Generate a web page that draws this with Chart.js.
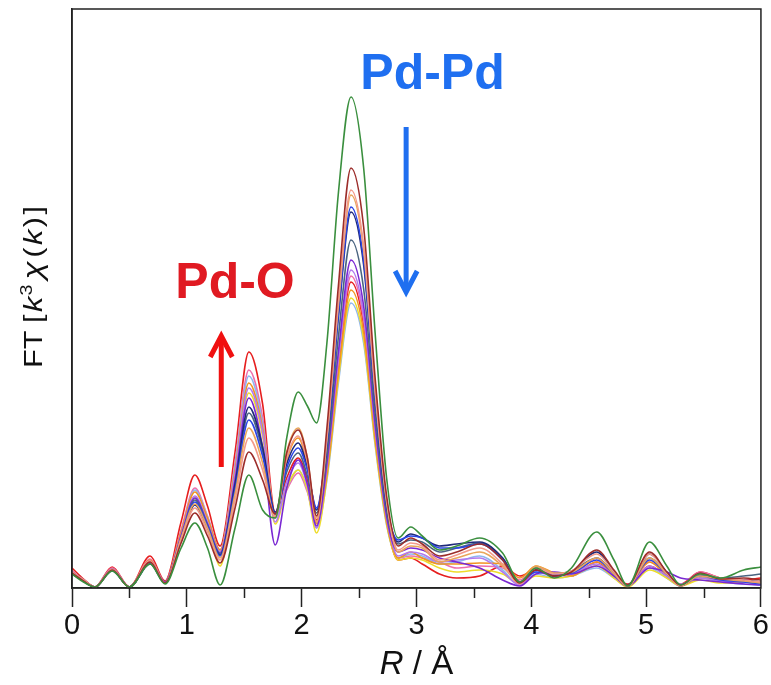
<!DOCTYPE html>
<html><head><meta charset="utf-8">
<script src="https://cdn.jsdelivr.net/npm/chart.js@4/dist/chart.umd.min.js"></script>
<style>html,body{margin:0;padding:0;background:#fff;}</style>
</head><body>
<canvas id="c" width="771" height="685"></canvas>
<script>
// R grid (Å)
const R = [0,0.1,0.2,0.35,0.5,0.68,0.81,0.95,1.07,1.18,1.29,1.42,1.54,1.66,1.77,1.87,1.97,2.05,2.13,2.22,2.32,2.43,2.54,2.64,2.74,2.84,2.95,3.05,3.2,3.35,3.55,3.75,3.9,4.04,4.2,4.35,4.57,4.72,4.84,5.03,5.18,5.3,5.47,5.65,5.85,6.0];
// FT magnitudes (arbitrary units)
const green     = [14,6,1,17,1,24,4,40,65,40,3,60,113,78,70,150,196,182,165,245,395,491,420,255,110,50,61,52,38,42,50,35,6,20,10,20,56,28,2,46,22,3,14,10,18,21];
const darkRed   = [15,7,1,18,1,26,5,45,75,52,25,80,136,108,74,135,158,130,72,160,302,420,361,210,92,42,50,44,32,36,44,28,5,18,12,16,38,18,3,36,16,3,15,9,10,8];
const salmon    = [16,8,1,19,1,27,5,48,80,56,28,88,150,118,72,130,152,126,70,151,287,398,342,199,88,38,45,42,28,33,40,24,4,20,14,17,34,16,2,34,15,2,14,10,8,6];
const tan       = [15,8,1,18,1,26,5,50,84,60,30,94,160,125,70,136,160,130,66,149,283,393,338,196,86,36,42,40,26,30,36,22,5,22,15,16,30,14,2,30,14,3,12,9,7,5];
const blue      = [15,7,1,18,1,25,5,50,86,62,32,98,168,132,74,120,140,118,80,145,274,381,328,190,84,48,52,50,40,40,44,28,6,16,14,15,28,14,3,28,14,3,12,8,6,4];
const navy      = [15,7,1,18,1,25,5,48,83,60,33,104,181,141,76,124,145,120,78,143,271,376,323,188,83,46,54,50,42,44,46,30,5,18,12,16,36,16,2,34,16,2,14,9,8,6];
const slate     = [14,7,1,17,1,24,5,50,88,63,34,102,175,137,74,116,135,112,75,132,251,348,299,174,77,44,48,46,36,40,45,30,6,20,14,17,30,15,3,30,14,3,13,10,12,14];
const purple    = [16,8,1,19,1,26,6,52,90,64,35,108,190,140,43,100,128,104,62,125,236,328,282,164,72,36,40,38,30,26,20,8,2,14,16,14,22,12,2,20,16,10,8,6,4,3];
const violet    = [16,8,1,19,1,27,6,53,92,66,36,114,200,156,66,106,125,102,60,121,229,318,273,159,70,32,36,34,26,28,30,16,3,16,12,14,24,12,2,22,12,4,10,7,6,4];
const orange    = [16,8,1,19,1,28,6,56,96,70,38,118,205,160,72,128,150,122,64,113,215,298,256,149,66,30,36,30,24,24,25,24,10,22,15,12,26,14,3,26,12,3,10,8,6,5];
const yellow    = [15,7,1,18,1,26,5,52,90,66,22,110,195,152,64,100,118,98,55,110,209,290,249,145,64,28,30,28,20,16,18,14,4,12,10,12,22,10,1,18,10,2,8,5,6,4];
const lightBlue = [15,7,1,18,1,26,5,55,98,71,38,122,212,165,70,100,118,98,60,108,205,285,245,143,63,30,34,32,24,26,32,18,3,14,10,12,20,10,2,20,10,2,10,6,4,3];
const pink      = [17,8,1,20,1,29,6,58,100,72,38,125,218,170,72,98,115,96,65,119,225,312,268,156,69,30,32,30,26,20,22,20,8,20,14,12,30,14,3,26,14,3,16,10,8,6];
const red       = [20,9,1,21,1,32,7,66,113,82,42,136,236,184,75,110,130,108,68,116,220,306,263,153,67,28,30,24,14,10,12,22,12,18,14,12,26,12,4,22,12,4,16,10,8,10];

const seriesList = [green, darkRed, salmon, tan, blue, navy, slate, purple, violet, orange, yellow, lightBlue, pink, red];
const seriesColors = ['#3a8f3e','#9c2d2a','#f39a8a','#e9a65a','#2a44e6','#1f2a7a','#4a6480','#7a28d2','#b27aee','#f29422','#eedc2a','#8fb6f0','#ee6eac','#e61e1e'];

const xMajorTicks = [0,1,2,3,4,5,6];
const xMinorTicks = [0.5,1.5,2.5,3.5,4.5,5.5];

// annotations in data coordinates
const labelPdPd = {text:'Pd-Pd', x:3.14, y:513};
const labelPdO  = {text:'Pd-O',  x:1.42, y:304};
const arrowPdPd = {x:2.91, from:461, to:296};
const arrowPdO  = {x:1.30, from:121, to:252};

const datasets = seriesList.map((vals, i) => ({
  data: R.map((r, j) => ({x: r, y: vals[j]})),
  borderColor: seriesColors[i],
  borderWidth: 1.6,
  pointRadius: 0,
  fill: false,
  cubicInterpolationMode: 'monotone'
}));

function arrow(ctx, x, y0, y1, color) {
  const dir = y1 < y0 ? -1 : 1;
  ctx.save();
  ctx.strokeStyle = color; ctx.lineWidth = 5; ctx.lineCap = 'butt'; ctx.lineJoin = 'miter';
  ctx.beginPath(); ctx.moveTo(x, y0); ctx.lineTo(x, y1 - dir*2); ctx.stroke();
  ctx.beginPath();
  ctx.moveTo(x - 11, y1 - dir*21); ctx.lineTo(x, y1); ctx.lineTo(x + 11, y1 - dir*21);
  ctx.stroke();
  ctx.restore();
}

const decor = {
  id: 'decor',
  afterDraw(chart) {
    const {ctx, chartArea: a, scales: {x, y}} = chart;
    ctx.save();
    // frame
    ctx.strokeStyle = '#222'; ctx.lineWidth = 1.5;
    ctx.strokeRect(a.left, a.top, a.right - a.left, a.bottom - a.top);
    // minor ticks
    xMinorTicks.forEach(v => {
      const px = Math.round(x.getPixelForValue(v)) + 0.5;
      ctx.beginPath(); ctx.moveTo(px, a.bottom); ctx.lineTo(px, a.bottom + 10); ctx.stroke();
    });
    // x title: R / Å
    ctx.fillStyle = '#111'; ctx.textBaseline = 'alphabetic'; ctx.textAlign = 'left';
    const f1 = "italic 33px 'Liberation Sans', Arial", f2 = "33px 'Liberation Sans', Arial";
    ctx.font = f1; const wR = ctx.measureText('R').width;
    ctx.font = f2; const wRest = ctx.measureText(' / Å').width;
    const cx = (a.left + a.right) / 2, tx = cx - (wR + wRest) / 2;
    ctx.font = f1; ctx.fillText('R', tx, 674);
    ctx.font = f2; ctx.fillText(' / Å', tx + wR, 674);
    // y title: FT [k3χ(k)]  (rotated, reading bottom to top)
    const pieces = [
      {t:'FT', s:'normal', sz:25, dy:0, gap:6},
      {t:'[',  s:'normal', sz:25, dy:0, gap:2},
      {t:'k',  s:'italic', sz:25, dy:0, gap:1},
      {t:'3',  s:'normal', sz:16, dy:-10, gap:4},
      {t:'χ',  s:'italic', sz:27, dy:0, gap:3},
      {t:'(',  s:'normal', sz:25, dy:0, gap:2},
      {t:'k',  s:'italic', sz:25, dy:0, gap:2},
      {t:')',  s:'normal', sz:25, dy:0, gap:2},
      {t:']',  s:'normal', sz:25, dy:0, gap:0}
    ];
    let total = 0;
    pieces.forEach(p => { ctx.font = `${p.s} ${p.sz}px 'Liberation Sans', Arial`; p.w = ctx.measureText(p.t).width; total += p.w + p.gap; });
    const stretch = 162 / total;
    ctx.save();
    ctx.translate(42, 287);
    ctx.rotate(-Math.PI/2);
    ctx.scale(stretch, 1);
    let pos = -total / 2;
    pieces.forEach(p => {
      ctx.font = `${p.s} ${p.sz}px 'Liberation Sans', Arial`;
      ctx.fillText(p.t, pos, p.dy);
      pos += p.w + p.gap;
    });
    ctx.restore();
    // annotations
    ctx.textAlign = 'center'; ctx.textBaseline = 'middle';
    ctx.font = "bold 50px 'Liberation Sans', Arial";
    ctx.fillStyle = '#1f6ff0';
    ctx.fillText(labelPdPd.text, x.getPixelForValue(labelPdPd.x), y.getPixelForValue(labelPdPd.y));
    ctx.fillStyle = '#e01a22';
    ctx.fillText(labelPdO.text, x.getPixelForValue(labelPdO.x), y.getPixelForValue(labelPdO.y));
    arrow(ctx, x.getPixelForValue(arrowPdPd.x), y.getPixelForValue(arrowPdPd.from), y.getPixelForValue(arrowPdPd.to), '#1f6ff0');
    arrow(ctx, x.getPixelForValue(arrowPdO.x), y.getPixelForValue(arrowPdO.from), y.getPixelForValue(arrowPdO.to), '#f01010');
    ctx.restore();
  }
};

new Chart(document.getElementById('c'), {
  type: 'line',
  data: { datasets },
  plugins: [decor],
  options: {
    responsive: false,
    animation: false,
    events: [],
    layout: { padding: { top: 9, right: 9, left: 0, bottom: 0 } },
    plugins: { legend: { display: false }, tooltip: { enabled: false } },
    scales: {
      x: {
        type: 'linear', min: 0, max: 6,
        afterBuildTicks: s => { s.ticks = xMajorTicks.map(v => ({value: v})); },
        afterFit: s => { s.height = 97; },
        ticks: { font: { family: "'Liberation Sans', Arial", size: 29 }, color: '#111', padding: 2, maxRotation: 0,
                 callback: v => String(v) },
        grid: { display: true, drawOnChartArea: false, drawTicks: true, tickLength: 19, tickColor: '#222', tickWidth: 1.5 },
        border: { display: true, color: '#222', width: 1.5 }
      },
      y: {
        type: 'linear', min: 0, max: 579,
        afterFit: s => { s.width = 72; },
        ticks: { display: false },
        grid: { display: false },
        border: { display: true, color: '#222', width: 1.5 }
      }
    }
  }
});
</script>
</body></html>
